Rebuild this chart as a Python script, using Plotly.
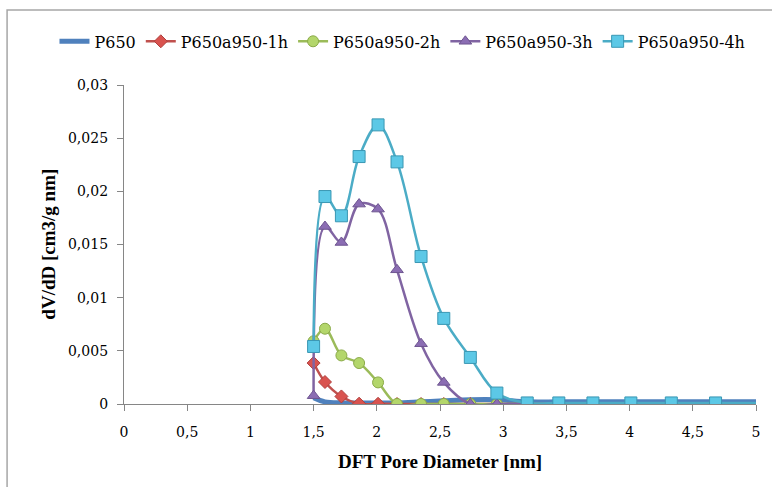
import plotly.graph_objects as go

# DFT pore size distribution, dV/dD versus pore diameter
diameter = [1.50, 1.59, 1.72, 1.86, 2.01, 2.16, 2.35, 2.53, 2.74, 2.95,
            3.19, 3.44, 3.71, 4.01, 4.33, 4.68, 5.06]

p650 = [0.0006, 0.0002, 0.0001, 0.0001, 0.0001, 0.0001, 0.0002, 0.0003, 0.0004, 0.0004,
        0.0002, 0.0002, 0.0002, 0.0002, 0.0002, 0.0002, 0.0002]
p650_1h = [0.00385, 0.00207, 0.00071, 0.00003, 0.00002, 0.0, 0.0, 0.0, 0.0, 0.0,
           0.0, 0.0, 0.0, 0.0, 0.0, 0.0, 0.0]
p650_2h = [0.0059, 0.00708, 0.00457, 0.00385, 0.00203, 0.0, 0.0, 0.0, 0.0, 0.0,
           0.0, 0.0, 0.0, 0.0, 0.0, 0.0, 0.0]
p650_3h = [0.00078, 0.01669, 0.01519, 0.0188, 0.01833, 0.01262, 0.00567, 0.00203, 0.0, 0.0,
           0.0, 0.0, 0.0, 0.0, 0.0, 0.0, 0.0]
p650_4h = [0.00541, 0.01951, 0.0177, 0.02327, 0.02625, 0.02277, 0.01387, 0.00805, 0.00438, 0.00103,
           0.0001, 0.0001, 0.0001, 0.0001, 0.0001, 0.0001, 0.0001]

x_ticks = [0, 0.5, 1, 1.5, 2, 2.5, 3, 3.5, 4, 4.5, 5]
x_tick_text = ["0", "0,5", "1", "1,5", "2", "2,5", "3", "3,5", "4", "4,5", "5"]
y_ticks = [0, 0.005, 0.01, 0.015, 0.02, 0.025, 0.03]
y_tick_text = ["0", "0,005", "0,01", "0,015", "0,02", "0,025", "0,03"]

x_title = "DFT Pore Diameter [nm]"
y_title = "dV/dD [cm3/g nm]"

FONT = "DejaVu Serif"
TITLE_FONT = "Liberation Serif"

fig = go.Figure()

fig.add_trace(go.Scatter(
    x=diameter, y=p650, name="P650", mode="lines",
    line=dict(color="#4F81BD", width=5, shape="spline"),
))
fig.add_trace(go.Scatter(
    x=diameter, y=p650_1h, name="P650a950-1h", mode="lines+markers",
    line=dict(color="#C0504D", width=2.5, shape="spline"),
    marker=dict(symbol="diamond", size=10, color="#D9534F",
                line=dict(color="#B0403D", width=1)),
))
fig.add_trace(go.Scatter(
    x=diameter, y=p650_2h, name="P650a950-2h", mode="lines+markers",
    line=dict(color="#9BBB59", width=2.5, shape="spline"),
    marker=dict(symbol="circle", size=11, color="#B3D66B",
                line=dict(color="#8AAA48", width=1)),
))
fig.add_trace(go.Scatter(
    x=diameter, y=p650_3h, name="P650a950-3h", mode="lines+markers",
    line=dict(color="#8064A2", width=2.5, shape="spline"),
    marker=dict(symbol="triangle-up", size=11, color="#8B6DB3",
                line=dict(color="#6E5590", width=1)),
))
fig.add_trace(go.Scatter(
    x=diameter, y=p650_4h, name="P650a950-4h", mode="lines+markers",
    line=dict(color="#4BACC6", width=2.5, shape="spline"),
    marker=dict(symbol="square", size=12, color="#5CC8E6",
                line=dict(color="#3A97B3", width=1)),
))

axis_common = dict(
    showline=True, linecolor="#868686", linewidth=1.3,
    ticks="outside", tickcolor="#868686", ticklen=6, tickwidth=1.3,
    showgrid=False, zeroline=False,
    tickfont=dict(family=FONT, size=14, color="#000000"),
)

fig.update_layout(
    width=772, height=487,
    margin=dict(l=124, r=16, t=85, b=83),
    paper_bgcolor="white", plot_bgcolor="white",
    font=dict(family=FONT, color="#000000"),
    xaxis=dict(range=[0, 5], tickvals=x_ticks, ticktext=x_tick_text,
               ticklabelstandoff=9, **axis_common),
    yaxis=dict(range=[0, 0.03], tickvals=y_ticks, ticktext=y_tick_text,
               ticklabelstandoff=6, **axis_common),
    legend=dict(
        orientation="h", x=-0.11, y=1.19, xanchor="left", yanchor="top",
        font=dict(family=FONT, size=16), itemwidth=30,
        bgcolor="rgba(0,0,0,0)", tracegroupgap=0,
    ),
    showlegend=True,
)

# axis titles
fig.add_annotation(text="<b>" + x_title + "</b>", xref="paper", yref="paper",
                   x=0.5, y=-0.18, xanchor="center", yanchor="middle",
                   showarrow=False, font=dict(family=TITLE_FONT, size=19))
fig.add_annotation(text="<b>" + y_title + "</b>", xref="paper", yref="paper",
                   x=-0.12, y=0.5, xanchor="center", yanchor="middle", textangle=-90,
                   showarrow=False, font=dict(family=TITLE_FONT, size=19))

# chart-area frame, partly outside the canvas
fig.add_shape(type="rect", xref="paper", yref="paper",
              x0=-0.185, x1=1.2, y0=-0.5, y1=1.235,
              line=dict(color="#A6A6A6", width=1.5), layer="below")

fig.write_html("out.html")
